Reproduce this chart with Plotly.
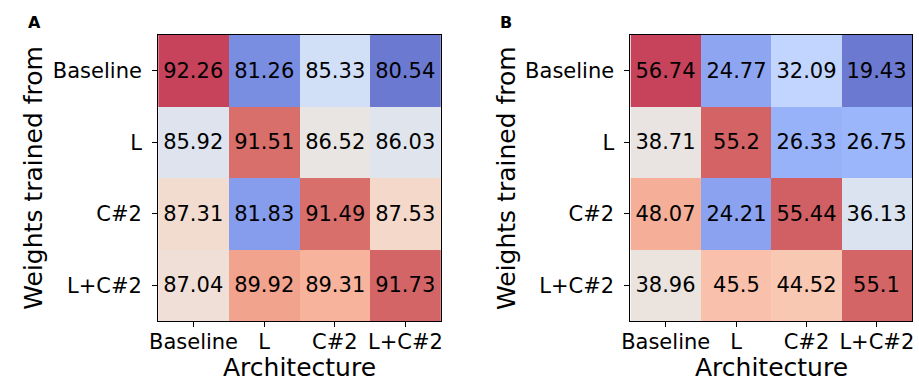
import plotly.graph_objects as go

architectures = ["Baseline", "L", "C#2", "L+C#2"]
weights_from = ["Baseline", "L", "C#2", "L+C#2"]

values_a = [
    [92.26, 81.26, 85.33, 80.54],
    [85.92, 91.51, 86.52, 86.03],
    [87.31, 81.83, 91.49, 87.53],
    [87.04, 89.92, 89.31, 91.73],
]
values_b = [
    [56.74, 24.77, 32.09, 19.43],
    [38.71, 55.2, 26.33, 26.75],
    [48.07, 24.21, 55.44, 36.13],
    [38.96, 45.5, 44.52, 55.1],
]

# matplotlib "coolwarm" samples
coolwarm = [
    (59, 76, 192), (68, 90, 204), (77, 104, 215), (87, 117, 225), (98, 130, 234),
    (108, 142, 241), (119, 154, 247), (130, 165, 251), (141, 176, 254), (152, 185, 255),
    (163, 194, 255), (174, 201, 253), (184, 208, 249), (194, 213, 244), (204, 217, 238),
    (213, 219, 230), (221, 221, 221), (229, 216, 209), (236, 211, 197), (241, 204, 185),
    (245, 196, 173), (247, 187, 160), (247, 177, 148), (247, 166, 135), (244, 154, 123),
    (241, 141, 111), (236, 127, 99), (229, 112, 88), (222, 96, 77), (213, 80, 66),
    (203, 62, 56), (192, 40, 47), (180, 4, 38),
]
alpha = 0.75
n = len(coolwarm)
colorscale = []
for i, (r, g, b) in enumerate(coolwarm):
    rr = round(alpha * r + (1 - alpha) * 255)
    gg = round(alpha * g + (1 - alpha) * 255)
    bb = round(alpha * b + (1 - alpha) * 255)
    colorscale.append([i / (n - 1), f"rgb({rr},{gg},{bb})"])

FONT = "DejaVu Sans"
fig = go.Figure()

for idx, vals in enumerate([values_a, values_b]):
    flat = [v for row in vals for v in row]
    suffix = "" if idx == 0 else "2"
    fig.add_trace(go.Heatmap(
        z=vals, x=architectures, y=weights_from,
        text=[[str(v) for v in row] for row in vals],
        texttemplate="%{text}",
        textfont=dict(family=FONT, size=21, color="black"),
        colorscale=colorscale, zmin=min(flat), zmax=max(flat),
        showscale=False, hoverinfo="skip",
        xaxis="x" + suffix, yaxis="y" + suffix,
    ))

ydom = [61 / 382, 347 / 382]
axis_common = dict(
    showline=True, mirror=True, linecolor="black", linewidth=1.2,
    ticks="outside", ticklen=5, tickwidth=1.2, tickcolor="black",
    tickfont=dict(family=FONT, size=21, color="black"),
    showgrid=False, zeroline=False, fixedrange=True,
)
fig.update_layout(
    width=919, height=382,
    margin=dict(l=0, r=0, t=0, b=0),
    paper_bgcolor="white", plot_bgcolor="white",
    xaxis=dict(domain=[151 / 919, 437 / 919], anchor="y", ticklabelstandoff=-3, **axis_common),
    yaxis=dict(domain=ydom, anchor="x", autorange="reversed", ticklabelstandoff=6, **axis_common),
    xaxis2=dict(domain=[629 / 919, 914 / 919], anchor="y2", ticklabelstandoff=-3, **axis_common),
    yaxis2=dict(domain=ydom, anchor="x2", autorange="reversed", ticklabelstandoff=6, **axis_common),
)

annotations = []
for cx, tx, lx, label in [((151 + 437) / 2, 24, 26, "A"), ((629 + 914) / 2, 503, 503, "B")]:
    annotations.append(dict(
        text="Architecture", x=cx / 919, y=0, xref="paper", yref="paper",
        xanchor="center", yanchor="bottom", yshift=-2, showarrow=False,
        font=dict(family=FONT, size=25, color="black"),
    ))
    annotations.append(dict(
        text="Weights trained from", x=tx / 919, y=(382 - 178) / 382,
        xref="paper", yref="paper", xanchor="center", yanchor="middle",
        textangle=-90, showarrow=False,
        font=dict(family=FONT, size=25, color="black"),
    ))
    annotations.append(dict(
        text="<b>" + label + "</b>", x=lx / 919, y=(382 - 23) / 382,
        xref="paper", yref="paper", xanchor="center", yanchor="middle",
        showarrow=False, font=dict(family=FONT, size=16, color="black"),
    ))
fig.update_layout(annotations=annotations)

fig.write_html(
    "out.html",
    config={"displayModeBar": False},
    post_script="document.body.style.margin='0';document.body.style.overflow='hidden';",
)
